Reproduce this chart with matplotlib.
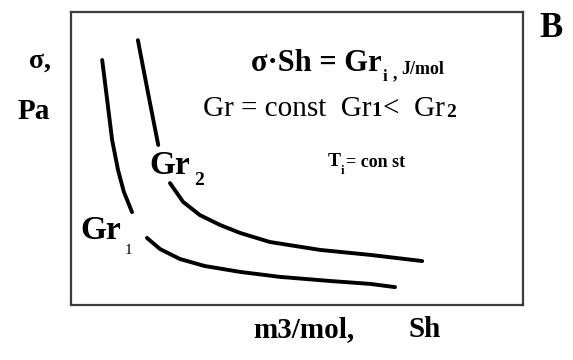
import matplotlib
matplotlib.use("Agg")
import matplotlib.pyplot as plt

# Isotherm curves sigma(Sh), read in box units (0..10 on both axes).
# Each curve is split in two pieces where its label sits.
gr1_sh_top = [0.69, 0.80, 0.91, 1.04, 1.17, 1.35]
gr1_sigma_top = [8.36, 7.00, 5.63, 4.61, 3.86, 3.17]
gr1_sh_low = [1.68, 1.97, 2.41, 2.96, 3.74, 4.62, 5.73, 6.62, 7.17]
gr1_sigma_low = [2.29, 1.91, 1.57, 1.33, 1.13, 0.96, 0.82, 0.72, 0.61]

gr2_sh_top = [1.48, 1.70, 1.93]
gr2_sigma_top = [9.04, 7.27, 5.46]
gr2_sh_low = [2.19, 2.48, 2.85, 3.30, 3.74, 4.40, 5.51, 6.62, 7.77]
gr2_sigma_low = [4.16, 3.52, 3.07, 2.73, 2.46, 2.15, 1.88, 1.71, 1.50]

W, H = 573, 360
fig = plt.figure(figsize=(W / 100, H / 100), dpi=100)
ax = fig.add_axes([71 / W, 55 / H, 452 / W, 293 / H])
ax.set_xlim(0, 10)
ax.set_ylim(0, 10)
ax.set_xticks([])
ax.set_yticks([])
for s in ax.spines.values():
    s.set_color("#3c3c3c")
    s.set_linewidth(1.6)

line_kw = dict(color="black", lw=2.8, solid_capstyle="round", solid_joinstyle="round")
ax.plot(gr1_sh_top, gr1_sigma_top, **line_kw)
ax.plot(gr1_sh_low, gr1_sigma_low, **line_kw)
ax.plot(gr2_sh_top, gr2_sigma_top, **line_kw)
ax.plot(gr2_sh_low, gr2_sigma_low, **line_kw)

serif = "Liberation Serif"


def put(x, y, s, size, weight="bold"):
    # text at pixel coordinates (origin top-left), y is the baseline
    return fig.text(x / W, 1 - y / H, s, fontsize=size, fontweight=weight,
                    family=serif, ha="left", va="baseline")


def chain(x, y, pieces):
    # pieces: (text, size, weight, gap_pt, dy_pt); each one follows the previous
    text, size, weight = pieces[0][:3]
    prev = put(x, y, text, size, weight)
    for s, size, weight, gap, dy in pieces[1:]:
        prev = fig.add_artist(plt.Annotation(
            s, xy=(1, 0), xycoords=prev, xytext=(gap, dy),
            textcoords="offset points", fontsize=size, fontweight=weight,
            family=serif, ha="left", va="bottom"))
    return prev


# axis captions
put(29, 68, "σ,", 20)
put(18, 119, "Pa", 21)
put(539, 37, "B", 25)
put(253, 337, "m3/mol,", 21)
put(409, 337, "Sh", 21)

# relation text inside the box
chain(251, 71, [("σ·Sh = Gr", 22, "bold", 0, 0),
                ("i", 12, "bold", 1, -5),
                (",", 13, "bold", 4, 2),
                ("J/mol", 13, "bold", 3, 3)])
chain(203, 116, [("Gr = const  Gr", 21, "normal", 0, 0),
                 ("1", 15, "bold", 0, 1),
                 ("<  Gr", 21, "normal", 1, -1),
                 ("2", 14, "bold", 1, 1)])
chain(328, 166, [("T", 14, "bold", 0, 0),
                 ("i", 9, "bold", 0, -5),
                 ("= con st", 13, "bold", 1, 4)])

# curve labels
chain(149, 174, [("Gr", 24, "bold", 0, 0),
                 ("2", 14, "bold", 3, -6)])
chain(80, 239, [("Gr", 24, "bold", 0, 0),
                ("1", 11, "normal", 3, -8)])

fig.savefig("out.png", dpi=100, facecolor="white")
